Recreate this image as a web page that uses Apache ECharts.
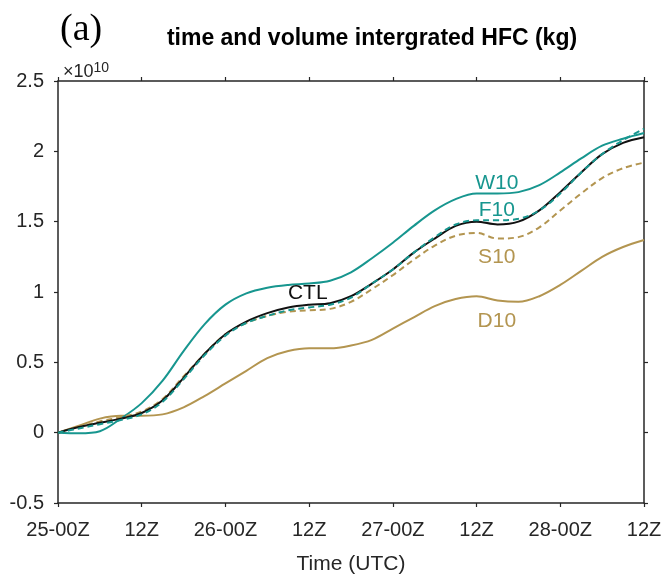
<!DOCTYPE html>
<html>
<head>
<meta charset="utf-8">
<script src="https://cdn.jsdelivr.net/npm/echarts@6/dist/echarts.min.js"></script>
<style>
  html, body { margin: 0; padding: 0; background: #fff; }
  #chart { width: 666px; height: 580px; }
</style>
</head>
<body>
<div id="chart"></div>
<script>
// hours since 25-00Z, every 3 h
var hours = [0, 3, 6, 9, 12, 15, 18, 21, 24, 27, 30, 33, 36, 39, 42, 45, 48, 51, 54, 57, 60, 63, 66, 69, 72, 75, 78, 81, 84];
var xTickLabels = ['25-00Z', '12Z', '26-00Z', '12Z', '27-00Z', '12Z', '28-00Z', '12Z'];

// values in units of 1e10 kg
var ctl = [0, 0.04, 0.07, 0.10, 0.14, 0.23, 0.39, 0.56, 0.70, 0.79, 0.85, 0.89, 0.91, 0.92, 0.97, 1.06, 1.16, 1.28, 1.38, 1.47, 1.50, 1.48, 1.50, 1.58, 1.71, 1.85, 1.98, 2.06, 2.10];
var w10 = [0, -0.005, 0.01, 0.10, 0.21, 0.37, 0.58, 0.77, 0.91, 0.99, 1.03, 1.05, 1.06, 1.08, 1.14, 1.24, 1.35, 1.47, 1.58, 1.66, 1.70, 1.70, 1.71, 1.76, 1.85, 1.95, 2.04, 2.09, 2.13];
var f10 = [0, 0.03, 0.06, 0.09, 0.13, 0.22, 0.38, 0.55, 0.69, 0.78, 0.83, 0.87, 0.89, 0.91, 0.96, 1.06, 1.16, 1.28, 1.39, 1.48, 1.51, 1.51, 1.52, 1.58, 1.70, 1.85, 1.98, 2.08, 2.16];
var s10 = [0, 0.04, 0.08, 0.11, 0.15, 0.24, 0.40, 0.56, 0.70, 0.78, 0.83, 0.86, 0.87, 0.88, 0.93, 1.02, 1.12, 1.23, 1.33, 1.40, 1.42, 1.38, 1.39, 1.46, 1.58, 1.70, 1.81, 1.88, 1.92];
var d10 = [0, 0.05, 0.10, 0.12, 0.12, 0.13, 0.18, 0.26, 0.35, 0.44, 0.53, 0.58, 0.60, 0.60, 0.62, 0.66, 0.74, 0.82, 0.90, 0.95, 0.97, 0.94, 0.93, 0.97, 1.05, 1.15, 1.25, 1.32, 1.37];

// curve labels: [hour, value]
var curveLabels = {
  CTL: [35.8, 0.99],
  W10: [62.9, 1.77],
  F10: [62.9, 1.58],
  S10: [62.9, 1.25],
  D10: [62.9, 0.79]
};

var teal = '#17968f';
var brown = '#b39550';
var axisColor = '#262626';
var font = 'Liberation Sans, Arial, sans-serif';

function pairs(ys) {
  return hours.map(function (h, i) { return [h, ys[i]]; });
}

function makeSeries(name, ys, color, dashed, z) {
  return {
    name: name,
    type: 'line',
    data: pairs(ys),
    smooth: 0.35,
    showSymbol: false,
    z: z,
    lineStyle: { color: color, width: 2, type: dashed ? [6, 4] : 'solid' },
    markPoint: {
      symbol: 'circle',
      symbolSize: 0,
      silent: true,
      label: {
        show: true,
        position: 'inside',
        formatter: name,
        color: color,
        fontFamily: font,
        fontSize: 21
      },
      data: [{ coord: curveLabels[name] }]
    }
  };
}

var myChart = echarts.init(document.getElementById('chart'));

var xCommon = {
  type: 'value',
  min: 0,
  max: 84,
  interval: 12,
  splitLine: { show: false },
  axisLine: { show: true, onZero: false, lineStyle: { color: axisColor, width: 1.5 } },
  axisTick: { show: true, inside: false, length: 4, lineStyle: { color: axisColor, width: 1.2 } }
};
var yCommon = {
  type: 'value',
  min: -0.5,
  max: 2.5,
  interval: 0.5,
  splitLine: { show: false },
  axisLine: { show: true, onZero: false, lineStyle: { color: axisColor, width: 1.5 } },
  axisTick: { show: true, inside: false, length: 4, lineStyle: { color: axisColor, width: 1.2 } }
};

myChart.setOption({
  animation: false,
  backgroundColor: '#fff',
  title: [{
    text: 'time and volume intergrated HFC (kg)',
    left: 367,
    textAlign: 'center',
    top: 22,
    textStyle: { fontFamily: font, fontWeight: 'bold', fontSize: 23, color: '#000' }
  }, {
    text: '(a)',
    left: 55,
    top: 6,
    textStyle: { fontFamily: 'Liberation Serif, Times New Roman, serif', fontWeight: 'normal', fontSize: 38, color: '#000' }
  }, {
    text: '×10{sup|10}',
    left: 58,
    top: 56,
    textStyle: {
      fontFamily: font, fontWeight: 'normal', fontSize: 18, color: '#262626',
      rich: { sup: { fontFamily: font, fontSize: 14, color: '#262626', verticalAlign: 'top', padding: [0, 0, 9, 0] } }
    }
  }],
  grid: { left: 58, right: 22, top: 81, bottom: 71 },
  xAxis: [
    Object.assign({}, xCommon, {
      position: 'bottom',
      name: 'Time (UTC)',
      nameLocation: 'middle',
      nameGap: 51,
      nameTextStyle: { fontFamily: font, fontSize: 21, color: '#262626' },
      axisLabel: {
        fontFamily: font, fontSize: 20, color: '#262626', margin: 17,
        formatter: function (v) { return xTickLabels[Math.round(v / 12)]; }
      }
    }),
    Object.assign({}, xCommon, { position: 'top', axisLabel: { show: false } })
  ],
  yAxis: [
    Object.assign({}, yCommon, {
      position: 'left',
      axisLabel: { fontFamily: font, fontSize: 20, color: '#262626', margin: 14 }
    }),
    Object.assign({}, yCommon, { position: 'right', axisLabel: { show: false } })
  ],
  series: [
    makeSeries('D10', d10, brown, false, 2),
    makeSeries('W10', w10, teal, false, 3),
    makeSeries('S10', s10, brown, true, 4),
    makeSeries('CTL', ctl, '#111111', false, 5),
    makeSeries('F10', f10, teal, true, 6)
  ]
});
</script>
</body>
</html>
